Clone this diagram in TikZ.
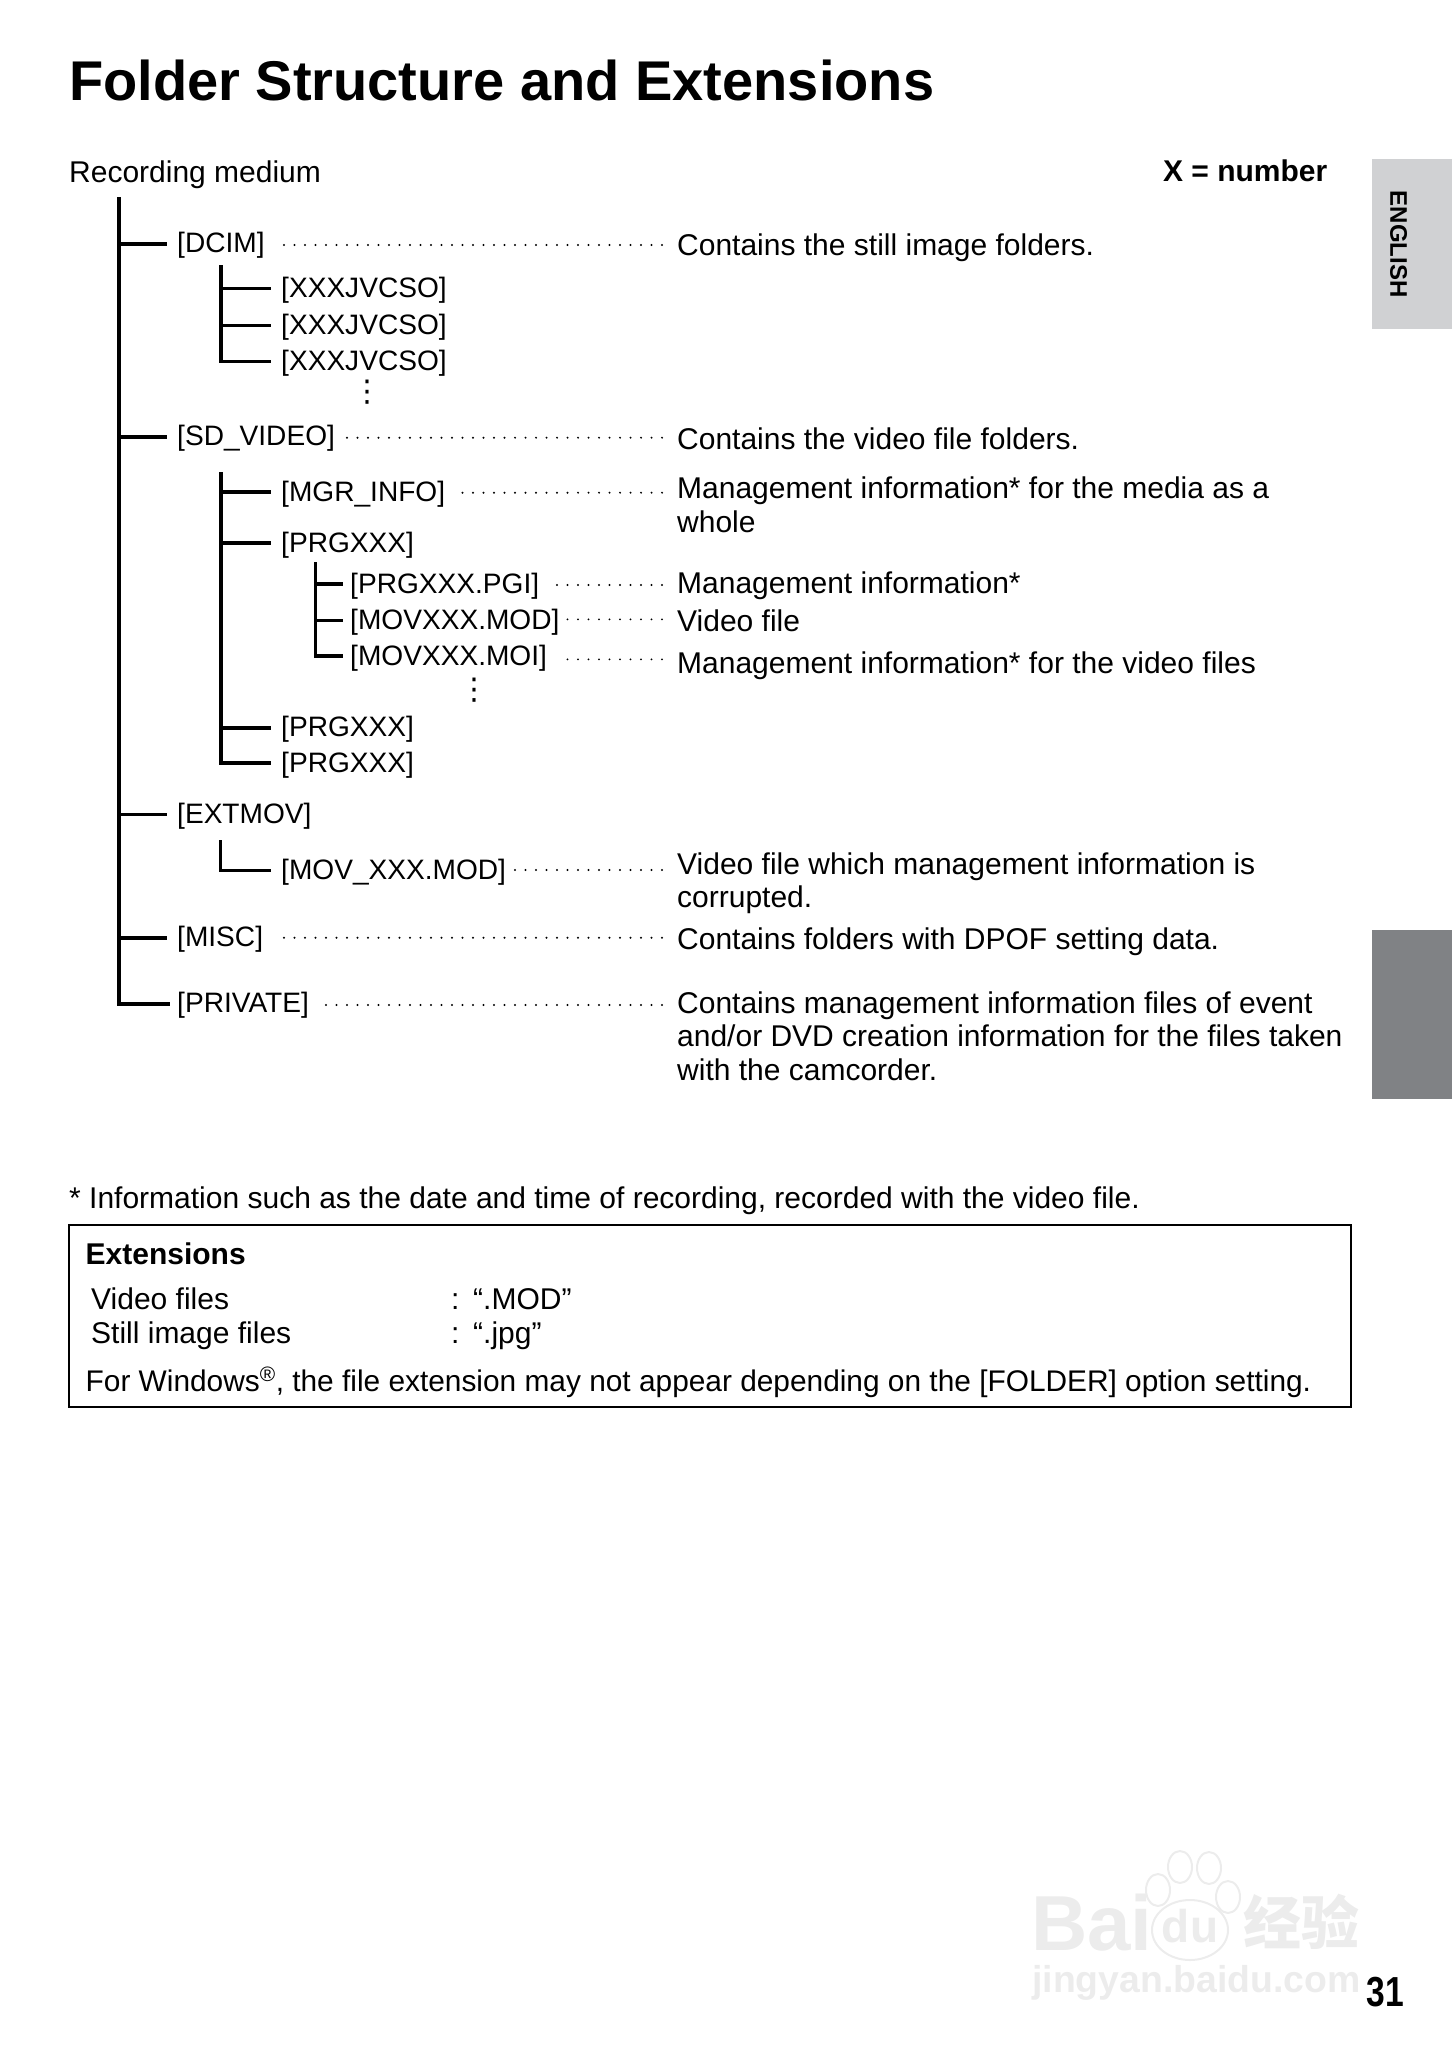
\documentclass[tikz,border=0pt]{standalone}
\usepackage{xcolor}
\usepackage{fontspec}
\usepackage{tikz}
\usetikzlibrary{arrows.meta, positioning, calc}
\setmainfont{Liberation Sans}
\newfontfamily\cjk{Noto Sans CJK SC}
\newfontfamily\symfont{DejaVu Sans}
\definecolor{tabgray}{RGB}{208,209,211}
\definecolor{tabdark}{RGB}{128,130,133}
\definecolor{markgray}{RGB}{236,236,236}
\tikzstyle{body}   = [inner sep=0pt, anchor=base west, align=left,
                       font=\fontsize{30}{33.5}\selectfont]
\tikzstyle{folder} = [inner sep=0pt, anchor=base west, text height=24pt, text depth=6pt,
                       font=\fontsize{28.1}{32}\selectfont]
\tikzstyle{strong} = [body, font=\fontsize{30}{33.5}\selectfont\bfseries]
\tikzstyle{more}   = [inner sep=0pt, font=\fontsize{30}{32}\selectfont\symfont]
\tikzstyle{wmark}  = [inner sep=0pt, text=markgray, font=\bfseries]
\tikzstyle{trunk}  = [line width=3.7pt, black]
\tikzstyle{branch} = [line width=3.9pt, black]
\tikzstyle{twig}   = [line width=3pt, black]
\tikzstyle{leader} = [line width=2.1pt, line cap=round, dash pattern=on 0pt off 10.5pt, shorten <=15pt]

\begin{document}
\begin{tikzpicture}[x=1pt, y=-1pt]
    \useasboundingbox (0,0) rectangle (1452,2064);

    % side tabs
    \fill[tabgray] (1372,159) rectangle (1452,329);
    \fill[tabdark] (1372,930) rectangle (1452,1099);
    \node[inner sep=0pt, rotate=-90, font=\fontsize{24}{26}\selectfont\bfseries] (english) at (1398.5,244) {ENGLISH};

    % watermark
    \node[wmark, anchor=base west, font=\fontsize{78}{80}\selectfont\bfseries] (wmbai) at (1031,1950) {Bai};
    \node[wmark, anchor=base, font=\fontsize{46}{50}\selectfont\bfseries] (wmdu) at (1190,1942) {du};
    \node[wmark, anchor=base west, font=\fontsize{58}{60}\selectfont\cjk\bfseries] (wmjy) at (1243,1944) {经验};
    \node[wmark, anchor=base west, font=\fontsize{37.4}{42}\selectfont\bfseries] (wmurl) at (1032,1992) {jingyan.baidu.com};
    \draw[markgray, line width=2pt] (1158,1890) ellipse (12 and 16);
    \draw[markgray, line width=2pt] (1180,1867) ellipse (12 and 16);
    \draw[markgray, line width=2pt] (1209,1868) ellipse (12 and 16);
    \draw[markgray, line width=2pt] (1228,1897) ellipse (12 and 16);
    \draw[markgray, line width=2pt] (1190,1930) ellipse (38 and 30);

    \node[body, font=\fontsize{56}{60}\selectfont\bfseries] (title) at (69,100) {Folder Structure and Extensions};
    \node[body] (medium) at (69,182) {Recording medium};
    \node[strong, anchor=base east] (xnum) at (1327.5,181) {X = number};

    % first level
    \node[folder] (dcim)    at (177,252.8) {[DCIM]};
    \node[folder] (sdvideo) at (177,445.8) {[SD\_VIDEO]};
    \node[folder] (extmov)  at (177,823.8)   {[EXTMOV]};
    \node[folder] (misc)    at (177,946.8) {[MISC]};
    \node[folder] (private) at (177,1012.8) {[PRIVATE]};

    % second level
    \node[folder] (jvca) at (281,297.5) {[XXXJVCSO]};
    \node[folder] (jvcb) at (281,334)   {[XXXJVCSO]};
    \node[folder] (jvcc) at (281,370.5)   {[XXXJVCSO]};
    \node[more] (jvcdots) at (367,392) {⋮};
    \node[folder] (mgrinfo) at (281,501.3) {[MGR\_INFO]};
    \node[folder] (prga)    at (281,552.3)   {[PRGXXX]};
    \node[folder] (prgb)    at (281,736.8)   {[PRGXXX]};
    \node[folder] (prgc)    at (281,772.3) {[PRGXXX]};
    \node[folder] (movext)  at (281,879.8)   {[MOV\_XXX.MOD]};

    % third level
    \node[folder] (pgi) at (350,593.3) {[PRGXXX.PGI]};
    \node[folder] (mod) at (350,629.3)   {[MOVXXX.MOD]};
    \node[folder] (moi) at (350,665.3)   {[MOVXXX.MOI]};
    \node[more] (moidots) at (474,690.5) {⋮};

    % right column
    \node[body] (dstill)  at (677,255) {Contains the still image folders.};
    \node[body] (dvideo)  at (677,449)   {Contains the video file folders.};
    \node[body] (dmgr)    at (677,532) {Management information* for the media as a\\whole};
    \node[body] (dpgi)    at (677,593.5) {Management information*};
    \node[body] (dmod)    at (677,631.5) {Video file};
    \node[body] (dmoi)    at (677,673.5) {Management information* for the video files};
    \node[body] (dext)    at (677,907.5)   {Video file which management information is\\corrupted.};
    \node[body] (dmisc)   at (677,949) {Contains folders with DPOF setting data.};
    \node[body] (dpriv)   at (677,1080)  {Contains management information files of event\\and/or DVD creation information for the files taken\\with the camcorder.};

    % tree lines
    \coordinate (roottop) at (119,197);
    \coordinate (dcimtop) at (221,265);
    \coordinate (sdtop)   at (221,472);
    \coordinate (prgtop)  at (315.5,562);
    \coordinate (exttop)  at (220,840);
    \draw[trunk] (roottop) |- ([xshift=-7pt]private.west);
    \draw[branch] (roottop |- dcim.west) -- ([xshift=-10pt]dcim.west);
    \draw[branch] (roottop |- sdvideo.west) -- ([xshift=-10pt]sdvideo.west);
    \draw[twig]   (roottop |- extmov.west) -- ([xshift=-10pt]extmov.west);
    \draw[branch] (roottop |- misc.west) -- ([xshift=-10pt]misc.west);

    \draw[trunk] (dcimtop) |- ([xshift=-10pt]jvcc.west);
    \draw[branch] (dcimtop |- jvca.west) -- ([xshift=-10pt]jvca.west);
    \draw[twig]   (dcimtop |- jvcb.west) -- ([xshift=-10pt]jvcb.west);

    \draw[trunk] (sdtop) |- ([xshift=-10pt]prgc.west);
    \draw[branch] (sdtop |- mgrinfo.west) -- ([xshift=-10pt]mgrinfo.west);
    \draw[branch] (sdtop |- prga.west) -- ([xshift=-10pt]prga.west);
    \draw[branch] (sdtop |- prgb.west) -- ([xshift=-10pt]prgb.west);

    \draw[trunk] (prgtop) |- ([xshift=-7pt]moi.west);
    \draw[branch] (prgtop |- pgi.west) -- ([xshift=-7pt]pgi.west);
    \draw[twig]   (prgtop |- mod.west) -- ([xshift=-7pt]mod.west);

    \draw[twig] (exttop) |- ([xshift=-10pt]movext.west);

    % dotted leaders
    \coordinate (ldcim) at (282,245);
    \coordinate (lsd)   at (346,437.7);
    \coordinate (lmgr)  at (453,492.7);
    \coordinate (lpgi)  at (550,585);
    \coordinate (lmod)  at (567,619.3);
    \coordinate (lmoi)  at (560,659.3);
    \coordinate (lext)  at (508,870);
    \coordinate (lmisc) at (282,937.7);
    \coordinate (lpriv) at (325,1005);
    \draw[leader] (ldcim -| dstill.west) -- (ldcim);
    \draw[leader] (lsd -| dvideo.west) -- (lsd);
    \draw[leader] (lmgr -| dmgr.west) -- (lmgr);
    \draw[leader] (lpgi -| dpgi.west) -- (lpgi);
    \draw[leader] (lmod -| dmod.west) -- (lmod);
    \draw[leader] (lmoi -| dmoi.west) -- (lmoi);
    \draw[leader] (lext -| dext.west) -- (lext);
    \draw[leader] (lmisc -| dmisc.west) -- (lmisc);
    \draw[leader] (lpriv -| dpriv.west) -- (lpriv);

    % footnote and box
    \node[body] (note) at (69,1208.5) {* Information such as the date and time of recording, recorded with the video file.};
    \draw[line width=2pt] (68.5,1225) rectangle (1350.5,1406.5);
    \node[strong] (exttitle) at (85.5,1264) {Extensions};
    \node[body] (vidfiles)  at (91,1309)  {Video files};
    \node[body] (stillfiles) at (91,1343) {Still image files};
    \node[body] (vidcolon)  at (451,1309) {:};
    \node[body] (stillcolon) at (451,1343) {:};
    \node[body] (vidext)    at (473,1309) {“.MOD”};
    \node[body] (stillext)  at (473,1343) {“.jpg”};
    \node[body, font=\fontsize{29.85}{33.5}\selectfont] (windows)   at (85.5,1391) {For Windows\textsuperscript{®}, the file extension may not appear depending on the [FOLDER] option setting.};

    \node[inner sep=0pt, xscale=0.8, font=\fontsize{42}{44}\selectfont\bfseries] (pageno) at (1385,1992) {31};
  \end{tikzpicture}
\end{document}
